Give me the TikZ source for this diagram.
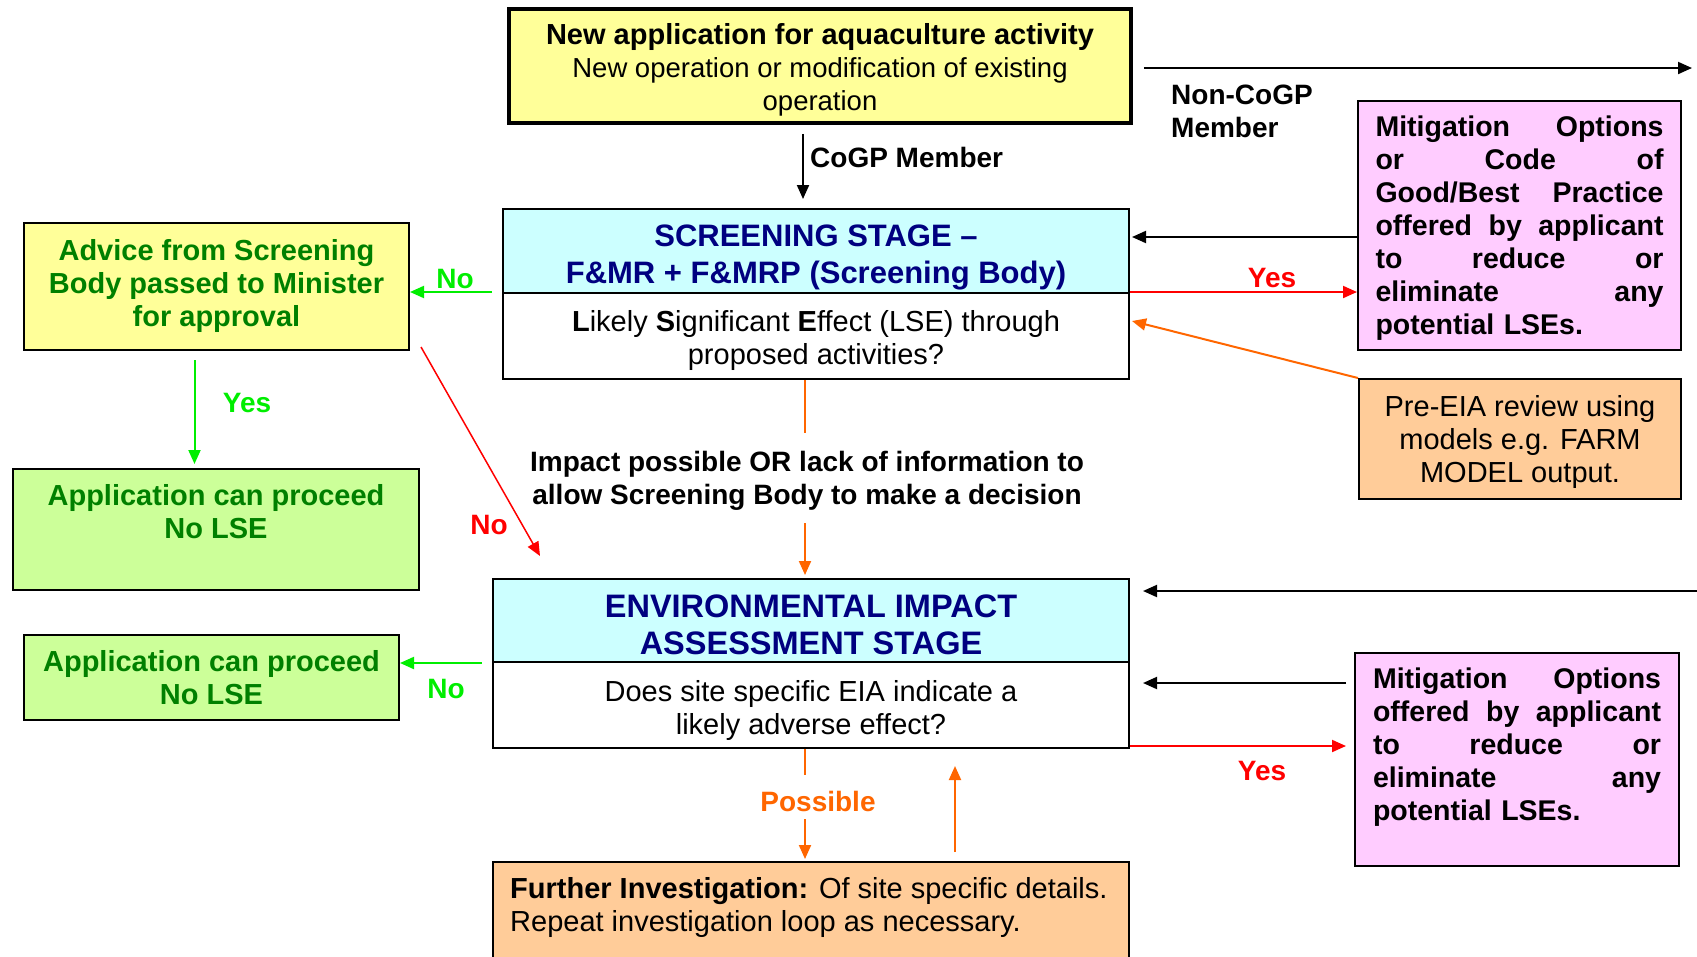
\documentclass[tikz,border=0pt]{standalone}
\usepackage{fontspec}
\setmainfont{Liberation Sans}
\usetikzlibrary{arrows.meta,calc}

\definecolor{boxyellow}{HTML}{FFFF99}
\definecolor{boxcyan}{HTML}{CCFFFF}
\definecolor{boxpink}{HTML}{FFCCFF}
\definecolor{boxorange}{HTML}{FFCC99}
\definecolor{boxgreen}{HTML}{CCFF99}
\definecolor{navytext}{HTML}{000080}
\definecolor{darkgreentext}{HTML}{008000}
\definecolor{brightgreen}{HTML}{00EE00}
\definecolor{flowred}{HTML}{FF0000}
\definecolor{floworange}{HTML}{FF6600}

\newcommand\txtnormal{\fontsize{29pt}{33pt}\selectfont}
\newcommand\txtsmall{\fontsize{27.5pt}{33pt}\selectfont}
\newcommand\txtlabel{\fontsize{28pt}{33pt}\selectfont}
\newcommand\txtmitig{\fontsize{28.5pt}{33pt}\selectfont}
\newcommand\txtheadA{\fontsize{31pt}{37pt}\selectfont}
\newcommand\txtheadB{\fontsize{32.5pt}{37pt}\selectfont}

\begin{document}
\begin{tikzpicture}[x=1pt,y=-1pt,
  box/.style={draw=black,line width=2pt,inner sep=0pt},
  txt/.style={inner sep=0pt,align=center,font=\txtnormal},
  arr/.style={line width=2pt,-{Triangle[length=14pt,width=12pt]}},
  lab/.style={inner sep=0pt,font=\txtlabel\bfseries},
]
\useasboundingbox (0,0) rectangle (1697,956);
\clip (0,0) rectangle (1697,956);

% ---------- boxes ----------
\node[box,line width=3.5pt,fill=boxyellow,minimum width=622pt,minimum height=114pt] (app) at (820,66) {};
\node[txt] (appt) at ($(app.center)+(0,4)$)
  {\textbf{New application for aquaculture activity}\\{\txtsmall New operation or modification of existing}\\{\txtsmall operation}};

\node[box,fill=boxcyan,minimum width=626pt,minimum height=84pt] (scrH) at (816,251) {};
\node[txt,font=\txtheadA\bfseries,text=navytext] (scrHt) at ($(scrH.center)+(0,6.5)$)
  {SCREENING STAGE –\\F\&MR + F\&MRP (Screening Body)};
\node[box,fill=white,minimum width=626pt,minimum height=86pt] (scrB) at (816,336) {};
\node[txt] (scrBt) at ($(scrB.center)+(0,4.5)$)
  {\textbf{L}ikely \textbf{S}ignificant \textbf{E}ffect (LSE) through\\proposed activities?};

\node[box,fill=boxpink,minimum width=323pt,minimum height=249pt] (mit1) at (1519.5,225.5) {};
\node[txt,text width=288pt,align=left,font=\txtmitig\bfseries] (mit1t) at ($(mit1.center)+(0,3)$)
  {Mitigation\hfill Options\\or\hfill Code\hfill of\\Good/Best\hfill Practice\\offered\hfill by\hfill applicant\\to\hfill reduce\hfill or\\eliminate\hfill any\\potential LSEs.};

\node[box,fill=boxorange,minimum width=322pt,minimum height=120pt] (pre) at (1520,439) {};
\node[txt] (pret) at ($(pre.center)+(0,3)$) {Pre-EIA review using\\models e.g. FARM\\MODEL output.};

\node[box,fill=boxyellow,minimum width=385pt,minimum height=127pt] (adv) at (216.5,286.5) {};
\node[txt,font=\txtnormal\bfseries,text=darkgreentext] (advt) at ($(adv.center)+(0,-1)$)
  {Advice from Screening\\Body passed to Minister\\for approval};

\node[box,fill=boxgreen,minimum width=406pt,minimum height=121pt] (ok1) at (216,529.5) {};
\node[txt,anchor=north,font=\txtnormal\bfseries,text=darkgreentext] (ok1t)
  at ($(ok1.north)+(0,16)$) {Application can proceed\\No LSE};

\node[txt,font=\txtlabel\bfseries,minimum height=90pt] (imp) at (805,478) {};
\node[txt,font=\txtlabel\bfseries] (impt) at ($(imp.center)+(2,3)$)
  {Impact possible OR lack of information to\\allow Screening Body to make a decision};

\node[box,fill=boxcyan,minimum width=636pt,minimum height=83pt] (eiaH) at (811,620.5) {};
\node[txt,font=\txtheadB\bfseries,text=navytext] (eiaHt) at ($(eiaH.center)+(0,4)$)
  {ENVIRONMENTAL IMPACT\\ASSESSMENT STAGE};
\node[box,fill=white,minimum width=636pt,minimum height=86pt] (eiaB) at (811,705) {};
\node[txt] (eiaBt) at ($(eiaB.center)+(0,5)$) {Does site specific EIA indicate a\\likely adverse effect?};

\node[box,fill=boxgreen,minimum width=375pt,minimum height=85pt] (ok2) at (211.5,677.5) {};
\node[txt,font=\txtnormal\bfseries,text=darkgreentext] (ok2t) at (ok2.center) {Application can proceed\\No LSE};

\node[box,fill=boxpink,minimum width=324pt,minimum height=213pt] (mit2) at (1517,759.5) {};
\node[txt,anchor=north,text width=288pt,align=left,font=\txtmitig\bfseries] (mit2t)
  at ($(mit2.north)+(0,15.5)$) {Mitigation\hfill Options\\offered\hfill by\hfill applicant\\to\hfill reduce\hfill or\\eliminate\hfill any\\potential LSEs.};

\node[box,fill=boxorange,minimum width=636pt,minimum height=113pt] (fur) at (811,918.5) {};
\node[txt,anchor=north west,align=left] (furt) at ($(fur.north west)+(18,16)$)
  {\textbf{Further Investigation:} Of site specific details.\\Repeat investigation loop as necessary.};

% ---------- labels ----------
\node[lab,anchor=west] (cogp) at (810,157) {CoGP Member};
\node[lab,anchor=north west,align=left] (noncogp) at (1171,85) {Non-CoGP\\Member};
\node[lab,text=flowred] (yes1) at (1272,278) {Yes};
\node[lab,text=brightgreen] (no1) at (455,279) {No};
\node[lab,text=brightgreen] (yes2) at (247,403) {Yes};
\node[lab,text=flowred] (no2) at (489,525) {No};
\node[lab,text=flowred] (yes3) at (1262,771) {Yes};
\node[lab,text=brightgreen] (no3) at (446,689) {No};
\node[lab,text=floworange] (poss) at (818,801) {Possible};

% ---------- connectors ----------
\coordinate (ncEnd) at (1692,68);
\coordinate (eiaIn) at (1697,591);

\draw[arr] ($(app.south)+(-17,9)$) -- ($(app.south |- scrH.north)+(-17,-9)$);
\draw[arr] ($(app.east)+(11,2)$) -- (ncEnd);

\draw[arr] ($(mit1.west)+(0,11.5)$) -- ($(scrH.east)+(2,-14)$);
\draw[arr,flowred] (scrB.north east) -- (scrB.north east -| mit1.west);
\draw[arr,floworange] (pre.north west) -- ($(scrB.east)+(2,-15)$);

\draw[arr,brightgreen] ($(scrB.north west)+(-10,0)$) -- (scrB.north west -| adv.east);
\draw[arr,brightgreen] ($(adv.south)+(-22,9)$) -- ($(adv.south |- ok1.north)+(-22,-4)$);
\draw[arr,flowred,line width=1.5pt] ($(adv.south east)+(11,-4)$) -- ($(eiaH.north west)+(48,-22)$);

\draw[floworange,line width=2pt] (scrB.south -| imp.north) -- (imp.north);
\draw[arr,floworange] (imp.south) -- ($(imp.south |- eiaH.north)+(0,-3)$);

\draw[arr] (eiaIn) -- ($(eiaIn -| eiaH.east)+(13,0)$);
\draw[arr] ($(mit2.west)+(-8,-76.5)$) -- ($(eiaB.east)+(13,-22)$);
\draw[arr,flowred] ($(eiaB.south east)+(0,-3)$) -- ($(eiaB.south east -| mit2.west)+(-8,-3)$);
\draw[arr,brightgreen] ($(eiaH.south west)+(-10,0)$) -- (eiaH.south west -| ok2.east);

\draw[floworange,line width=2pt] ($(eiaB.south)+(-6,0)$) -- ($(eiaB.south)+(-6,26)$);
\draw[arr,floworange] ($(fur.north)+(-6,-42)$) -- ($(fur.north)+(-6,-2)$);
\draw[arr,floworange] ($(fur.north)+(144,-9)$) -- ($(eiaB.south)+(144,17)$);
\end{tikzpicture}
\end{document}
